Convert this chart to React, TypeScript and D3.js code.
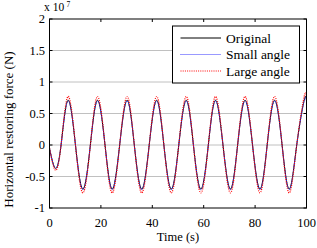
import * as d3 from 'd3';

// sample times (s) at the extrema and zero crossings of the response
const time = [0, 2.3, 4.5, 7.2, 10.1, 13.0, 15.9, 18.7, 21.6, 24.4, 27.3, 30.2, 33.0, 35.9, 38.8, 41.7, 44.5, 47.4, 50.3, 53.2, 56.0, 58.9, 61.8, 64.6, 67.5, 70.4, 73.2, 76.1, 79.0, 81.9, 84.7, 87.6, 90.5, 93.3, 96.2, 99.1, 100];

// horizontal restoring force, in units of 1e7 N
const original = [-0.05, -0.37, 0, 0.71, 0, -0.70, 0, 0.71, 0, -0.70, 0, 0.71, 0, -0.70, 0, 0.71, 0, -0.70, 0, 0.71, 0, -0.70, 0, 0.71, 0, -0.70, 0, 0.71, 0, -0.70, 0, 0.71, 0, -0.70, 0, 0.71, 0.70];
const smallAngle = [-0.05, -0.37, 0, 0.70, 0, -0.71, 0, 0.70, 0, -0.71, 0, 0.70, 0, -0.71, 0, 0.70, 0, -0.71, 0, 0.70, 0, -0.71, 0, 0.70, 0, -0.71, 0, 0.70, 0, -0.71, 0, 0.70, 0, -0.71, 0, 0.70, 0.69];
const largeAngle = [-0.05, -0.40, 0, 0.77, 0, -0.76, 0, 0.77, 0, -0.76, 0, 0.77, 0, -0.76, 0, 0.77, 0, -0.76, 0, 0.77, 0, -0.76, 0, 0.77, 0, -0.76, 0, 0.77, 0, -0.76, 0, 0.77, 0, -0.76, 0, 0.77, 0.76];

const xTicks = [0, 20, 40, 60, 80, 100];
const yTicks = [-1, -0.5, 0, 0.5, 1, 1.5, 2];

const series = [
  { name: 'Original', values: original, color: '#000000', dash: 'none', width: 1 },
  { name: 'Small angle', values: smallAngle, color: '#3333ff', dash: '1,1', width: 1 },
  { name: 'Large angle', values: largeAngle, color: '#ff0000', dash: '1,1.2', width: 1.2 },
];

const W = 317;
const H = 248;
const margin = { top: 19, right: 10.5, bottom: 40, left: 49.5 };
const serif = { fontFamily: 'Liberation Serif' };

export default function App() {
  const x = d3.scaleLinear().domain([0, 100]).range([margin.left, W - margin.right]);
  const y = d3.scaleLinear().domain([-1, 2]).range([H - margin.bottom, margin.top]);

  const line = (vals: number[]) =>
    d3.line<number>()
      .x((_, i) => x(time[i]))
      .y((d) => y(d))
      .curve(d3.curveNatural)(vals) as string;

  const x0 = x(0), x1 = x(100), y0 = y(-1), y1 = y(2);
  const tick = 3;

  // legend box
  const lg = { x: 172.5, y: 26, w: 127, h: 57 };

  return (
    <svg width={W} height={H} style={{ position: 'absolute', left: 0, top: 0, background: '#fff' }}>
      {/* dotted horizontal grid */}
      {yTicks.slice(1, -1).map((t) => (
        <line key={'g' + t} x1={x0} x2={x1} y1={y(t)} y2={y(t)} stroke="#808080" strokeWidth={1} strokeDasharray="1,1" />
      ))}

      <defs>
        <clipPath id="plot">
          <rect x={x0} y={y1} width={x1 - x0} height={y0 - y1} />
        </clipPath>
      </defs>
      <g clipPath="url(#plot)">
        {series.map((s) => (
          <path key={s.name} d={line(s.values)} fill="none" stroke={s.color} strokeWidth={s.width} strokeDasharray={s.dash} />
        ))}
      </g>

      {/* axes box with inward ticks */}
      <rect x={x0} y={y1} width={x1 - x0} height={y0 - y1} fill="none" stroke="#000" strokeWidth={1} />
      {xTicks.map((t) => (
        <g key={'x' + t}>
          <line x1={x(t)} x2={x(t)} y1={y0} y2={y0 - tick} stroke="#000" />
          <line x1={x(t)} x2={x(t)} y1={y1} y2={y1 + tick} stroke="#000" />
          <text x={x(t)} y={227} fontSize={12.5} textAnchor="middle" style={serif}>{t}</text>
        </g>
      ))}
      {yTicks.map((t) => (
        <g key={'y' + t}>
          <line x1={x0} x2={x0 + tick} y1={y(t)} y2={y(t)} stroke="#000" />
          <line x1={x1} x2={x1 - tick} y1={y(t)} y2={y(t)} stroke="#000" />
          <text x={45} y={y(t) + 4} fontSize={12.5} textAnchor="end" style={serif}>{t}</text>
        </g>
      ))}

      {/* exponent */}
      <text x={44} y={11} fontSize={11.5} style={serif}>x 10</text>
      <text x={66.5} y={7} fontSize={7.5} style={serif}>7</text>

      <text x={(x0 + x1) / 2} y={241} fontSize={12.5} textAnchor="middle" style={serif}>Time (s)</text>
      <text transform={`translate(13, ${(y0 + y1) / 2 + 16}) rotate(-90)`} fontSize={13} textAnchor="middle" style={serif}>
        Horizontal restoring force (N)
      </text>

      {/* legend */}
      <rect x={lg.x} y={lg.y} width={lg.w} height={lg.h} fill="#fff" stroke="#000" strokeWidth={1} />
      {series.map((s, i) => (
        <g key={'l' + s.name}>
          <line x1={180.5} x2={221} y1={38 + i * 16.5} y2={38 + i * 16.5} stroke={s.color} strokeWidth={s.width} strokeDasharray={s.dash} />
          <text x={226} y={42.5 + i * 16.5} fontSize={13.5} style={serif}>{s.name}</text>
        </g>
      ))}
    </svg>
  );
}
